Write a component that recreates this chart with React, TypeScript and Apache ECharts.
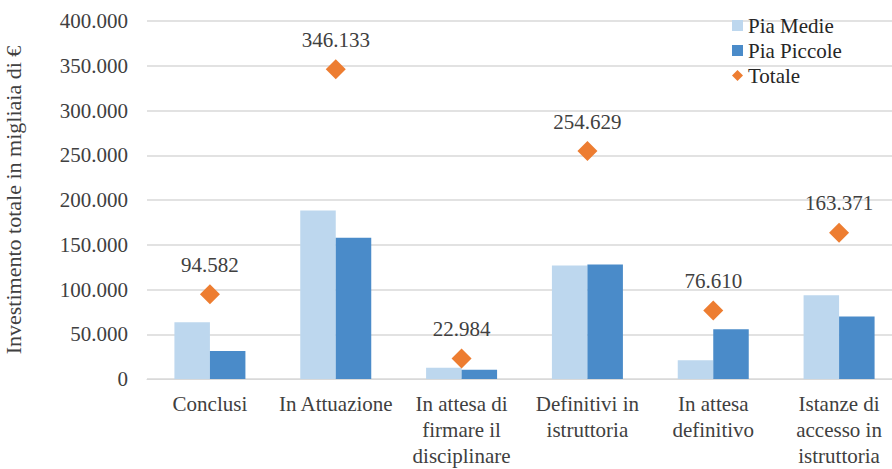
import React, { useEffect, useRef } from "react";
import * as echarts from "echarts";

const categories = [
  "Conclusi",
  "In Attuazione",
  "In attesa di\nfirmare il\ndisciplinare",
  "Definitivi in\nistruttoria",
  "In attesa\ndefinitivo",
  "Istanze di\naccesso in\nistruttoria",
];
const piaMedie = [63400, 188300, 12600, 126800, 20900, 93500];
const piaPiccole = [31200, 157800, 10400, 127800, 55700, 69900];
const totale = [94582, 346133, 22984, 254629, 76610, 163371];
const yTicks = { min: 0, max: 400000, interval: 50000 };

const fmt = (v: number) =>
  String(Math.round(v)).replace(/\B(?=(\d{3})+(?!\d))/g, ".");

const FONT = "'Liberation Serif', 'Times New Roman', serif";
const TXT = "#404040";

export default function App() {
  const ref = useRef<HTMLDivElement>(null);
  useEffect(() => {
    document.body.style.margin = "0";
    if (!ref.current) return;
    const chart = echarts.init(ref.current, undefined, { renderer: "svg" });
    chart.setOption({
      animation: false,
      textStyle: { fontFamily: FONT },
      grid: {
        left: 147,
        width: 755,
        top: 21,
        bottom: 90,
        containLabel: false,
        outerBoundsMode: "none",
      },
      legend: {
        orient: "vertical",
        left: 727,
        top: 10,
        itemWidth: 11,
        itemHeight: 11,
        itemGap: 4,
        textStyle: { fontFamily: FONT, fontSize: 21, color: "#262626" },
        data: [
          { name: "Pia Medie", icon: "rect" },
          { name: "Pia Piccole", icon: "rect" },
          { name: "Totale", icon: "diamond" },
        ],
      },
      xAxis: {
        type: "category",
        data: categories,
        axisTick: { show: false },
        axisLine: { lineStyle: { color: "#d9d9d9", width: 1 } },
        axisLabel: {
          interval: 0,
          margin: 12,
          fontFamily: FONT,
          fontSize: 21,
          lineHeight: 26,
          color: TXT,
        },
      },
      yAxis: {
        type: "value",
        min: yTicks.min,
        max: yTicks.max,
        interval: yTicks.interval,
        name: "Investimento totale in migliaia di €",
        nameLocation: "middle",
        nameGap: 123,
        nameRotate: 90,
        nameTextStyle: { fontFamily: FONT, fontSize: 22, color: TXT },
        axisLine: { show: false },
        axisTick: { show: false },
        splitLine: { lineStyle: { color: "#d9d9d9", width: 1.5 } },
        axisLabel: {
          margin: 19,
          fontFamily: FONT,
          fontSize: 21,
          color: TXT,
          formatter: (v: number) => fmt(v),
        },
      },
      series: [
        {
          name: "Pia Medie",
          type: "bar",
          data: piaMedie,
          barWidth: 35.5,
          barGap: "0%",
          itemStyle: { color: "#BDD7EE" },
        },
        {
          name: "Pia Piccole",
          type: "bar",
          data: piaPiccole,
          barWidth: 35.5,
          barGap: "0%",
          itemStyle: { color: "#4A8BC9" },
        },
        {
          name: "Totale",
          type: "scatter",
          data: totale,
          symbol: "diamond",
          symbolSize: 20,
          itemStyle: { color: "#ED7D31", opacity: 1 },
          z: 5,
          label: {
            show: true,
            position: "top",
            distance: 9,
            fontFamily: FONT,
            fontSize: 21,
            color: TXT,
            formatter: (p: any) => fmt(p.value),
          },
        },
      ],
    });
    return () => chart.dispose();
  }, []);
  return <div ref={ref} style={{ width: 892, height: 469 }} />;
}
